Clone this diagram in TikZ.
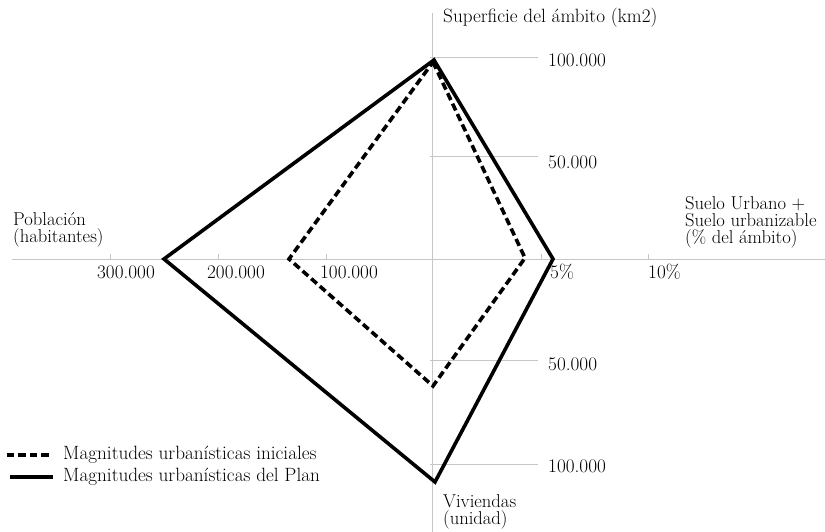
\documentclass[tikz,border=0pt]{standalone}
\usepackage{tikz}
\usetikzlibrary{positioning}
\newcommand{\lblfont}{\fontsize{19.2}{17}\selectfont}
\newcommand{\titfont}{\fontsize{18.6}{17}\selectfont}

\begin{document}
\begin{tikzpicture}[x=1pt, y=1pt,
    axisline/.style={gray!45, line width=1pt},
    tickline/.style={gray!45, line width=1pt},
    planline/.style={line width=3.6pt, line join=miter},
    inicialline/.style={line width=3.6pt, dash pattern=on 7.5pt off 4pt, line join=miter},
    lbl/.style={font=\lblfont, inner sep=0pt, align=left},
    tit/.style={font=\titfont, inner sep=0pt, align=left, anchor=west}]
\useasboundingbox (-433,-272) rectangle (392,260);
% ejes
\draw[axisline] (-421,0) -- (392,0);
\draw[axisline] (0,247) -- (0,-272);
% marcas del eje vertical
\foreach \y in {202,103,-101,-205}
    \draw[tickline] (-3,\y) -- (105,\y);
% marcas del eje horizontal
\foreach \x in {-322,-214,-106,109,215}
    \draw[tickline] (\x,0) -- (\x,6);
% valores
\node[lbl, anchor=west] (sup100) at (115,200) {100.000};
\node[lbl, anchor=west] (sup50) at (115,98) {50.000};
\node[lbl, anchor=west] (viv50) at (115,-104) {50.000};
\node[lbl, anchor=west] (viv100) at (115,-206) {100.000};
\node[lbl] (pob300) at (-307,-12) {300.000};
\node[lbl] (pob200) at (-197,-12) {200.000};
\node[lbl] (pob100) at (-84,-12) {100.000};
\node[lbl, anchor=west] (suelo5) at (117,-12) {5\%};
\node[lbl, anchor=west] (suelo10) at (215,-12) {10\%};
% titulos de los ejes
\node[lbl, anchor=west] (sup) at (10,242) {Superficie del ámbito (km2)};
\node[tit] (pob) at (-420,30) {Población\\(habitantes)};
\node[tit] (suelo) at (252,38) {Suelo Urbano +\\Suelo urbanizable\\(\% del ámbito)};
\node[tit] (viv) at (10,-252) {Viviendas\\(unidad)};
% poligonos
\coordinate (pS) at (1,200);
\coordinate (pE) at (120,1);
\coordinate (pV) at (2,-222);
\coordinate (pP) at (-269,1);
\draw[planline] (pS) -- (pE) -- (pV) -- (pP) -- cycle;
\coordinate (iS) at (0,198);
\coordinate (iE) at (92,2);
\coordinate (iV) at (0,-126);
\coordinate (iP) at (-144,1);
\draw[inicialline] (iS) -- (iE) -- (iV) -- (iP) -- cycle;
% leyenda
\coordinate (ley1a) at (-426,-195);
\coordinate (ley1b) at (-381,-195);
\coordinate (ley2a) at (-423,-217);
\coordinate (ley2b) at (-380,-217);
\draw[inicialline] (ley1a) -- (ley1b);
\draw[planline] (ley2a) -- (ley2b);
\node[lbl, anchor=west] (ley1) at (-370,-195) {Magnitudes urbanísticas iniciales};
\node[lbl, anchor=west] (ley2) at (-370,-217) {Magnitudes urbanísticas del Plan};
\end{tikzpicture}
\end{document}
